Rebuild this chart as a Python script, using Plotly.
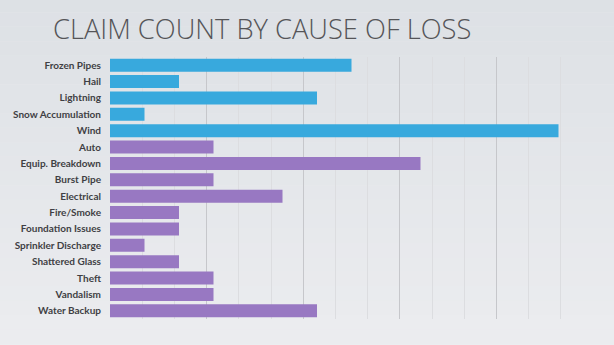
import plotly.graph_objects as go

categories = ["Frozen Pipes", "Hail", "Lightning", "Snow Accumulation", "Wind",
              "Auto", "Equip. Breakdown", "Burst Pipe", "Electrical", "Fire/Smoke",
              "Foundation Issues", "Sprinkler Discharge", "Shattered Glass", "Theft",
              "Vandalism", "Water Backup"]
counts = [7, 2, 6, 1, 13, 3, 9, 3, 5, 2, 2, 1, 2, 3, 3, 6]
groups = ["weather"] * 5 + ["other"] * 11
group_colors = {"weather": "#38a9dd", "other": "#9878c2"}
x_max = 14
title_text = "CLAIM COUNT BY CAUSE OF LOSS"

colors = [group_colors[g] for g in groups]

fig = go.Figure(go.Bar(
    y=categories, x=counts, orientation="h",
    marker=dict(color=colors, line=dict(width=0)),
    width=0.8,
))

# background vertical gradient via strips
shapes = []
n = 40
top = (218, 222, 227)
bot = (242, 242, 244)
for i in range(n):
    t = i / (n - 1)
    c = tuple(int(round(top[k] + (bot[k] - top[k]) * t)) for k in range(3))
    shapes.append(dict(type="rect", xref="paper", yref="paper",
                       x0=-1, x1=2, y0=1.5 - (i + 1) * 2.2 / n, y1=1.5 - i * 2.2 / n,
                       fillcolor="rgb(%d,%d,%d)" % c, line=dict(width=0), layer="below"))

fig.update_layout(
    width=614, height=345,
    margin=dict(l=110, r=21, t=57, b=26),
    paper_bgcolor="#e8e9ec",
    plot_bgcolor="rgba(0,0,0,0)",
    shapes=shapes,
    showlegend=False,
    bargap=0.2,
    annotations=[dict(text=title_text, xref="paper", yref="paper",
                      x=0.314, y=1.108, xanchor="center", yanchor="middle",
                      showarrow=False,
                      font=dict(family="Open Sans", size=27.3, color="#555558", weight=300))],
    xaxis=dict(range=[0, x_max], showticklabels=False, zeroline=False,
               showgrid=True, tick0=0, dtick=x_max / 5, gridcolor="#c6c7cb", gridwidth=1,
               minor=dict(showgrid=True, tick0=0, dtick=x_max / 15, gridcolor="#dcdde0", gridwidth=1),
               showline=False, fixedrange=True, automargin=False),
    yaxis=dict(autorange="reversed", showgrid=False, zeroline=False, showline=False,
               ticks="", ticklabelstandoff=8, automargin=False,
               tickfont=dict(family="Lato", size=10, color="#3f3f44", weight=700)),
)

fig.write_html("out.html")
